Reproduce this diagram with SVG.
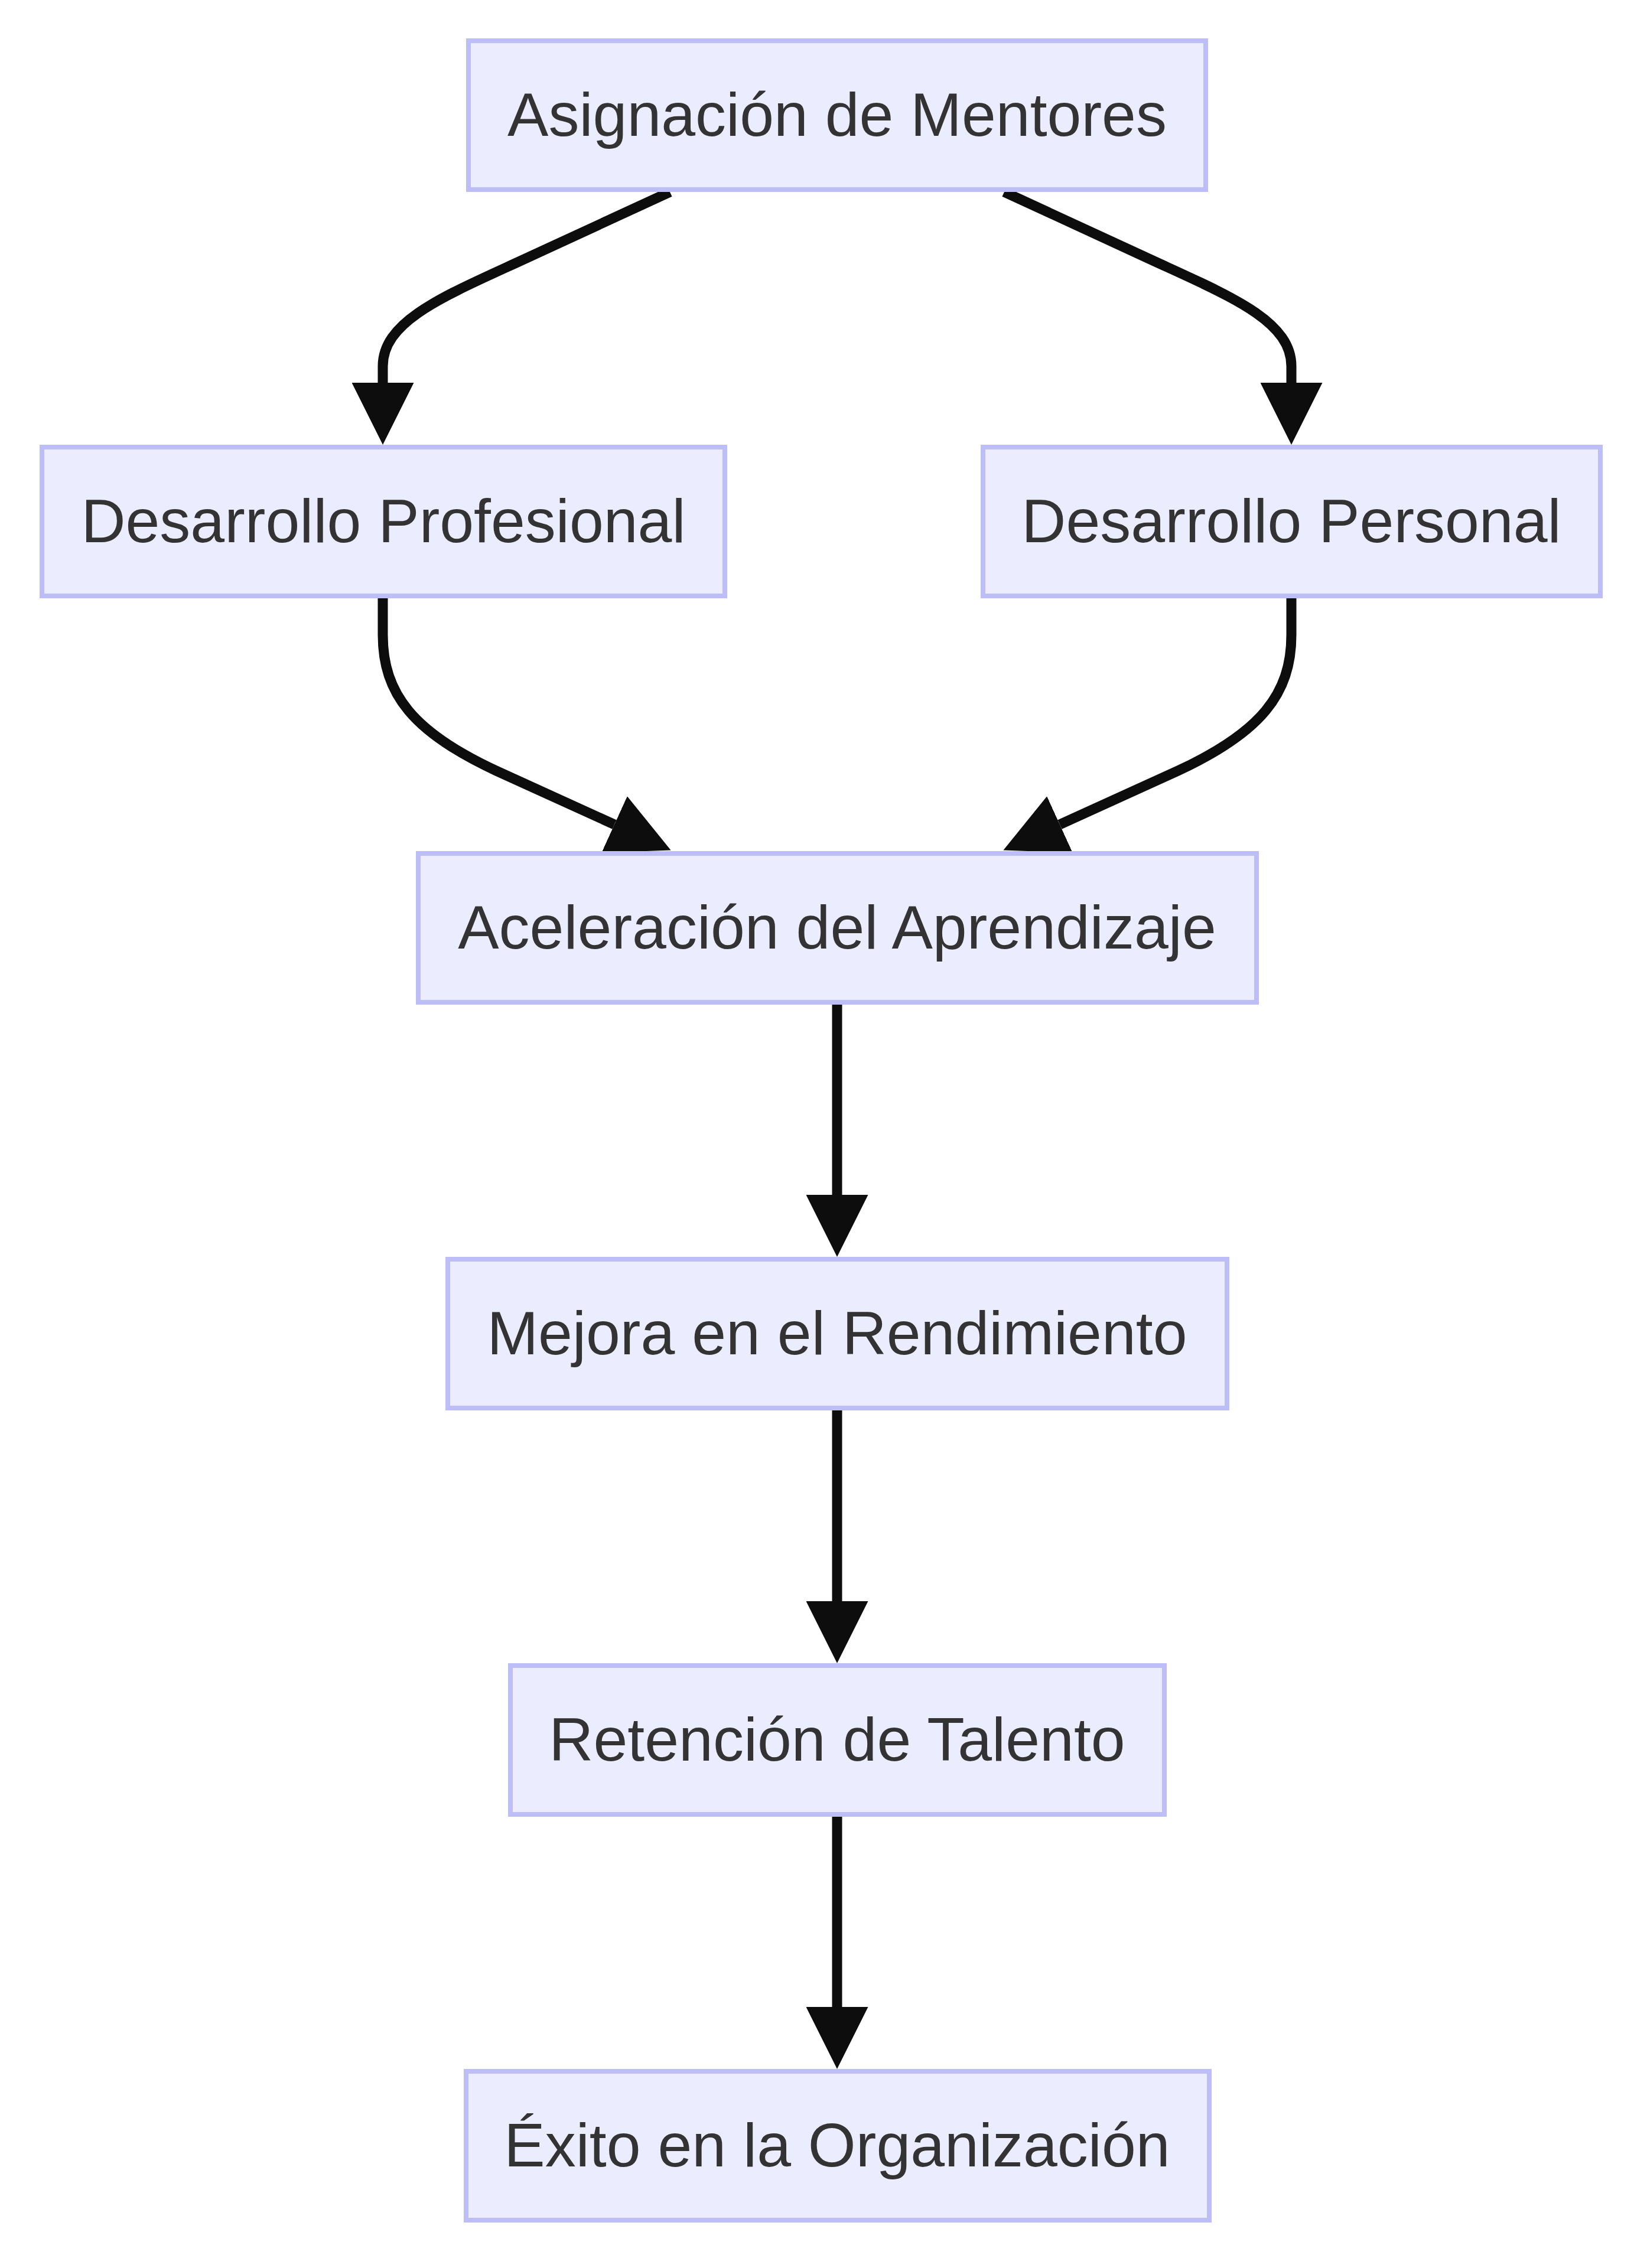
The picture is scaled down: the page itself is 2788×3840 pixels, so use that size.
<svg xmlns="http://www.w3.org/2000/svg" width="2788" height="3840" viewBox="0 0 2788 3840">
<style>
.node rect{fill:#ECECFF;stroke:#BDBDF7;stroke-width:8;}
.node text{font-family:"Liberation Sans",Arial,Helvetica,sans-serif;font-size:104px;fill:#333333;text-anchor:middle;}
.edge{fill:none;stroke:#0D0D0D;stroke-width:17;stroke-linecap:butt;}
</style>
<defs>
<marker id="arrow" viewBox="0 0 10 10" refX="0" refY="5" markerUnits="userSpaceOnUse" markerWidth="105" markerHeight="105" orient="auto">
<path d="M0,0 L10,5 L0,10 z" fill="#0D0D0D"/>
</marker>
</defs>
<rect width="2788" height="3840" fill="#FFFFFF"/>
<g id="connectors">
<path class="edge" marker-end="url(#arrow)" d="M1134,325 L900,433 C760,498 648,540 648,620 L648,648"/>
<path class="edge" marker-end="url(#arrow)" d="M1700,325 L1934,433 C2074,498 2186,540 2186,620 L2186,648"/>
<path class="edge" marker-end="url(#arrow)" d="M648,1013 L648,1075 C648,1175 700,1240 840,1305 L1040,1396"/>
<path class="edge" marker-end="url(#arrow)" d="M2186,1013 L2186,1075 C2186,1175 2134,1240 1994,1305 L1794,1396"/>
<path class="edge" marker-end="url(#arrow)" d="M1417,1701 L1417,2023"/>
<path class="edge" marker-end="url(#arrow)" d="M1417,2388 L1417,2711"/>
<path class="edge" marker-end="url(#arrow)" d="M1417,3076 L1417,3398"/>
</g>
<g id="node-asignacion" class="node">
<rect x="793" y="69" width="1248" height="252"/>
<text x="1417" y="230">Asignación de Mentores</text>
</g>
<g id="node-profesional" class="node">
<rect x="71" y="757" width="1156" height="252"/>
<text x="649" y="918">Desarrollo Profesional</text>
</g>
<g id="node-personal" class="node">
<rect x="1664" y="757" width="1045" height="252"/>
<text x="2186" y="918">Desarrollo Personal</text>
</g>
<g id="node-aceleracion" class="node">
<rect x="708" y="1445" width="1419" height="252"/>
<text x="1417" y="1606">Aceleración del Aprendizaje</text>
</g>
<g id="node-mejora" class="node">
<rect x="758" y="2132" width="1319" height="252"/>
<text x="1417" y="2293">Mejora en el Rendimiento</text>
</g>
<g id="node-retencion" class="node">
<rect x="864" y="2820" width="1107" height="252"/>
<text x="1417" y="2981">Retención de Talento</text>
</g>
<g id="node-exito" class="node">
<rect x="789" y="3507" width="1258" height="252"/>
<text x="1417" y="3668">Éxito en la Organización</text>
</g>
</svg>
